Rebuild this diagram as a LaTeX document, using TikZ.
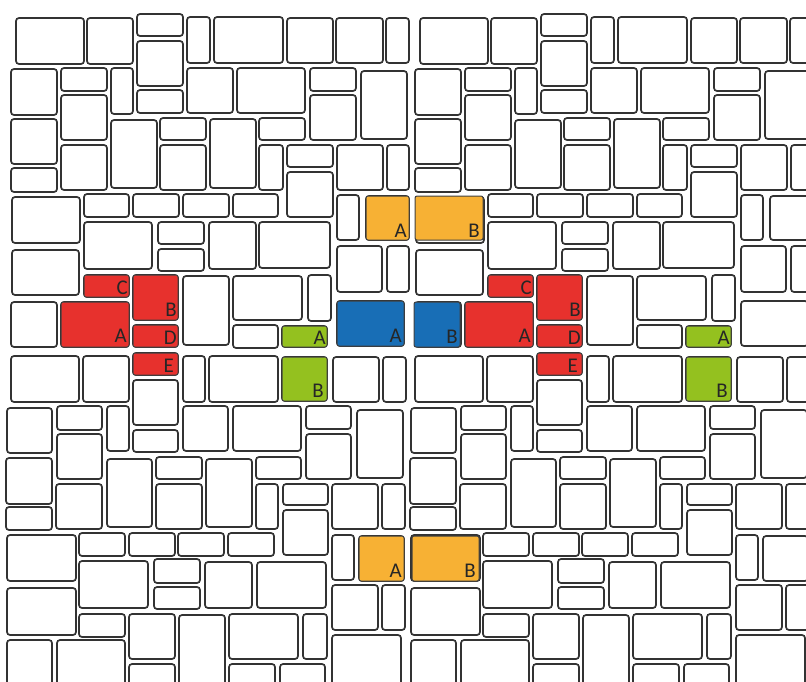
\documentclass[tikz,border=0pt]{standalone}
\usepackage{fontspec}
\setmainfont{Carlito}
\definecolor{stRed}{RGB}{231,49,45}
\definecolor{stOrange}{RGB}{247,177,52}
\definecolor{stBlue}{RGB}{24,110,182}
\definecolor{stGreen}{RGB}{148,193,31}
\tikzset{
  stone/.style={draw=black!80, line width=1.7bp, rounded corners=3bp, fill=white},
  cstone/.style={draw=black!75, line width=1bp, rounded corners=2bp, fill=#1},
  lab/.style={anchor=south east, inner sep=0pt, font=\fontsize{21}{21}\selectfont, text=black!85}
}
\begin{document}
\begin{tikzpicture}[x=1bp,y=-1bp]
\useasboundingbox (0,0) rectangle (806,682);
\clip (0,0) rectangle (806,682);
\foreach \s in {0,404}{
  \foreach \a/\b/\c/\d in {
    16/18/84/64, 87/18/133/64, 137/14/183/36, 137/41/183/86, 187/17/210/63,
    214/17/283/63, 287/18/333/63, 336/18/383/63, 386/18/409/63,
    11/69/57/115, 61/68/107/91, 61/95/107/140, 111/68/133/114, 137/90/183/113,
    187/68/233/113, 237/68/305/113, 310/68/356/91, 310/95/356/140, 361/71/407/139,
    11/119/57/164, 11/168/57/192, 61/145/107/190, 111/120/157/188, 160/118/206/140,
    160/145/206/190, 210/119/256/188, 259/118/305/140, 259/145/283/190,
    287/145/333/167, 287/172/333/217, 337/145/383/190, 387/145/409/190,
    12/197/80/243, 84/194/129/217, 133/194/179/217, 183/194/229/217, 233/194/278/217,
    337/195/359/240, 366/196/409/240, 84/222/152/269, 158/222/204/244, 158/249/204/271,
    209/222/256/269, 259/222/330/268,
    12/250/79/295, 84/275/129/297, 133/275/178/320, 183/276/229/345, 233/276/302/320,
    308/275/331/321, 337/246/382/292, 387/246/409/292, 11/302/57/347, 61/302/129/347,
    133/325/178/347, 233/325/278/348, 282/326/327/347, 337/301/404/346,
    11/356/79/402, 83/356/129/402, 133/353/178/375, 133/380/178/425, 183/356/205/402,
    209/356/278/402, 282/357/327/401, 333/357/379/402, 383/357/406/402,
    7/408/52/453, 57/406/102/430, 57/434/102/479, 107/406/129/451, 133/430/178/452,
    183/406/228/451, 233/406/301/451, 306/406/351/429, 306/434/351/479, 357/410/403/478,
    6/458/52/504, 6/507/52/530, 56/484/102/529, 107/459/152/527, 156/457/202/479,
    156/484/202/529, 206/459/252/527, 256/457/301/479, 256/484/278/529,
    283/484/328/505, 283/510/328/555, 332/484/378/529, 382/484/405/529,
    7/535/76/581, 79/533/125/556, 129/533/175/556, 178/533/224/556, 228/533/274/556,
    332/535/354/580, 359/536/404/581, 79/561/148/608, 154/559/200/583, 154/587/200/609,
    205/562/252/608, 257/562/326/608, 332/585/378/630, 382/585/405/630,
    7/588/76/635, 79/614/125/637, 129/614/175/659, 179/615/225/692, 229/614/298/659,
    303/614/327/659, 332/635/401/692, 7/640/52/692, 57/640/125/692, 129/664/175/692,
    229/664/275/692, 280/664/325/692}{
    \draw[stone] (\a+\s,\b) rectangle (\c+\s,\d);
  }
}
% coloured stones and labels
\foreach \s/\n in {0/l,404/r}{
  \draw[cstone=stRed] (84+\s,275) rectangle (129+\s,297);
  \node[lab] (redC\n) at (128+\s,295) {C};
  \draw[cstone=stRed] (133+\s,275) rectangle (178+\s,320);
  \node[lab] (redB\n) at (177+\s,317) {B};
  \draw[cstone=stRed] (61+\s,302) rectangle (129+\s,347);
  \node[lab] (redA\n) at (127+\s,343) {A};
  \draw[cstone=stRed] (133+\s,325) rectangle (178+\s,347);
  \node[lab] (redD\n) at (177+\s,345) {D};
  \draw[cstone=stRed] (133+\s,353) rectangle (178+\s,375);
  \node[lab] (redE\n) at (174+\s,373) {E};
  \draw[cstone=stGreen] (282+\s,326) rectangle (327+\s,347);
  \node[lab] (grnA\n) at (326+\s,345) {A};
  \draw[cstone=stGreen] (282+\s,357) rectangle (327+\s,401);
  \node[lab] (grnB\n) at (324+\s,398) {B};
}
\draw[cstone=stBlue] (337,301) rectangle (404,346);
\node[lab] (bluA) at (402,343) {A};
\draw[cstone=stBlue] (414,302) rectangle (460,347);
\node[lab] (bluB) at (458,344) {B};
\draw[cstone=stOrange] (366,196) rectangle (409,240);
\node[lab] (orAt) at (407,238) {A};
\draw[cstone=stOrange] (415,196) rectangle (483,240);
\node[lab] (orBt) at (480,238) {B};
\draw[cstone=stOrange] (359,536) rectangle (404,581);
\node[lab] (orAb) at (402,578) {A};
\draw[cstone=stOrange] (412,536) rectangle (479,581);
\node[lab] (orBb) at (476,578) {B};
\end{tikzpicture}
\end{document}
